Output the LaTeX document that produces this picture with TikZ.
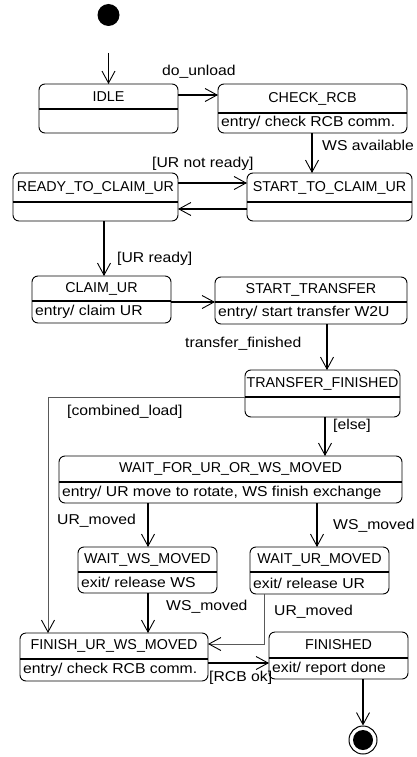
\documentclass[tikz,border=0pt]{standalone}
\usepackage{fontspec}
\setmainfont{Liberation Sans}
\usepackage{graphicx}
\usetikzlibrary{arrows.meta}
\newcommand{\mx}[1]{\scalebox{1.1}[1]{#1}}
% name, x1, y1, x2, y2, ydiv, title, body
\newcommand{\umlstate}[8]{%
  \node[statebox, minimum width={#4-#2}, minimum height={#5-#3}, anchor=north west] (#1) at (#2,#3) {};
  \draw[divline] (#2,#6) -- (#4,#6);
  \node[titletext] (#1-t) at ({(#2+#4)/2},{(#3+#6)/2}) {#7};
  \if\relax\detokenize{#8}\relax\else
  \node[bodytext] (#1-b) at ({#2+3},{(#6+#5)/2}) {\mx{#8}};
  \fi
}
\begin{document}
\begin{tikzpicture}[x=1pt,y=-1pt,
  every node/.style={font=\fontsize{14.3}{16}\selectfont},
  statebox/.style={draw, rounded corners=6pt, line width=0.9pt, inner sep=0pt, outer sep=0pt},
  divline/.style={line width=1.6pt},
  titletext/.style={inner sep=0pt},
  bodytext/.style={inner sep=0pt, anchor=west},
  lbl/.style={inner sep=0pt, anchor=west},
  tr/.style={line width=1.5pt, -{Straight Barb[length=12pt,width=13pt,line width=0.9pt]}},
  route/.style={line width=1pt, draw=black!65, -{Straight Barb[length=12pt,width=13pt,line width=0.9pt,color=black]}}
]
\fill[white] (0,0) rectangle (417,757);
\useasboundingbox (0,0) rectangle (417,757);

\node[circle, fill, minimum size=22pt, inner sep=0pt] (init) at (108.5,15) {};
\coordinate (istart) at (108.5,53);

\umlstate{idle}{39}{84}{178}{133}{109}{IDLE}{}
\umlstate{chk}{218}{84}{407}{133}{113}{CHECK\_RCB}{entry/ check RCB comm.}
\umlstate{rdy}{13}{173}{178}{221}{202}{READY\_TO\_CLAIM\_UR}{}
\umlstate{stc}{247}{173}{412}{221}{202}{START\_TO\_CLAIM\_UR}{}
\umlstate{clm}{32}{276}{171}{323}{301}{CLAIM\_UR}{entry/ claim UR}
\umlstate{stt}{215}{277}{407}{324}{302}{START\_TRANSFER}{entry/ start transfer W2U}
\umlstate{tf}{245}{370}{400}{417}{397}{TRANSFER\_FINISHED}{}
\umlstate{wfm}{59}{456}{402}{503}{482}{WAIT\_FOR\_UR\_OR\_WS\_MOVED}{entry/ UR move to rotate, WS finish exchange}
\umlstate{wws}{78}{547}{217}{593}{572}{WAIT\_WS\_MOVED}{exit/ release WS}
\umlstate{wum}{250}{547}{389}{594}{572}{WAIT\_UR\_MOVED}{exit/ release UR}
\umlstate{fin}{20}{633}{208}{681}{659}{FINISH\_UR\_WS\_MOVED}{entry/ check RCB comm.}
\umlstate{fnd}{269}{632}{408}{679}{658}{FINISHED}{exit/ report done}

\node[circle, draw, line width=1pt, minimum size=28pt, inner sep=0pt] (final) at (363,740) {};
\fill (final.center) circle (10pt);

\coordinate (cl) at (48,397);
\coordinate (um) at (264,644);

\draw[tr] (istart) -- (idle.north);
\draw[tr] (idle.east |- 0,95) -- (chk.west |- 0,95);
\draw[tr] (chk.south -| 312,0) -- (stc.north -| 312,0);
\draw[tr] (rdy.east |- 0,183) -- (stc.west |- 0,183);
\draw[tr] (stc.west |- 0,209) -- (rdy.east |- 0,209);
\draw[tr] (rdy.south -| 104,0) -- (clm.north -| 104,0);
\draw[tr] (clm.east |- 0,302) -- (stt.west |- 0,302);
\draw[tr] (stt.south -| 327,0) -- (tf.north -| 327,0);
\draw[tr] (tf.south -| 325,0) -- (wfm.north -| 325,0);
\draw[tr] (wfm.south -| 148,0) -- (wws.north -| 148,0);
\draw[tr] (wfm.south -| 317,0) -- (wum.north -| 317,0);
\draw[tr] (wws.south -| 148,0) -- (fin.north -| 148,0);
\draw[route] (tf.west |- cl) -- (cl) -- (cl |- fin.north);
\draw[route] (wum.south -| um) -- (um) -- (um -| fin.east);
\draw[tr] (fin.east |- 0,663) -- (fnd.west |- 0,663);
\draw[tr] (fnd.south -| final.north) -- (final.north);

\node[lbl] (l1) at (162,72) {\mx{do\_unload}};
\node[lbl] (l2) at (322,145) {\mx{WS available}};
\node[lbl] (l3) at (152,164) {\mx{[UR not ready]}};
\node[lbl] (l4) at (117,259) {\mx{[UR ready]}};
\node[lbl] (l5) at (185,344) {\mx{transfer\_finished}};
\node[lbl] (l6) at (67,412) {\mx{[combined\_load]}};
\node[lbl] (l7) at (333,426) {\mx{[else]}};
\node[lbl] (l8) at (57,521) {\mx{UR\_moved}};
\node[lbl] (l9) at (333,526) {\mx{WS\_moved}};
\node[lbl] (l10) at (166,607) {\mx{WS\_moved}};
\node[lbl] (l11) at (274,612) {\mx{UR\_moved}};
\node[lbl] (l12) at (209,678) {\mx{[RCB ok]}};
\end{tikzpicture}
\end{document}
